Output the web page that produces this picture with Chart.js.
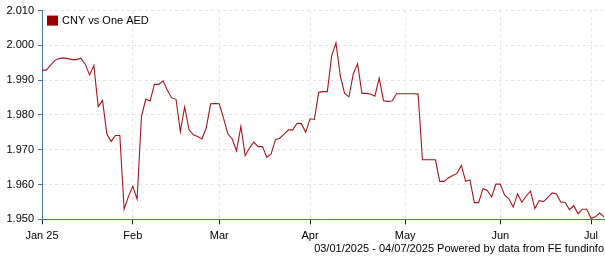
<!DOCTYPE html>
<html>
<head>
<meta charset="utf-8">
<script src="https://cdn.jsdelivr.net/npm/chart.js@4.4.1/dist/chart.umd.min.js"></script>
<style>
    html, body { margin: 0; padding: 0; background: #fff; }
</style>
</head>
<body>
<canvas id="graficoDivisa" width="605" height="260"></canvas>
<script>
const serie = 'CNY vs One AED';
const pie = '03/01/2025 - 04/07/2025 Powered by data from FE fundinfo';
const meses = ['Jan 25', 'Feb', 'Mar', 'Apr', 'May', 'Jun', 'Jul'];
const ticksY = [1.95, 1.96, 1.97, 1.98, 1.99, 2.00, 2.01];

// valores diarios (dias habiles)
const ene = [1.9929, 1.9929, 1.9943, 1.9957, 1.9962, 1.9964, 1.9962, 1.9959, 1.9959, 1.9963,
             1.9946, 1.9915, 1.9942, 1.9824, 1.9842, 1.9745, 1.9724, 1.9741, 1.9741, 1.9529, 1.9566];
const feb = [1.9595, 1.9558, 1.9795, 1.9845, 1.9840, 1.9888, 1.9888, 1.9898, 1.9871, 1.9849,
             1.9845, 1.9752, 1.9823, 1.9758, 1.9743, 1.9738, 1.9731, 1.9763, 1.9832, 1.9833];
const mar = [1.9832, 1.9790, 1.9745, 1.9731, 1.9697, 1.9767, 1.9683, 1.9705, 1.9722, 1.9709,
             1.9709, 1.9678, 1.9688, 1.9729, 1.9733, 1.9745, 1.9757, 1.9757, 1.9776, 1.9775, 1.9750];
const abr = [1.9789, 1.9787, 1.9865, 1.9867, 1.9867, 1.9970, 2.0007, 1.9912, 1.9862, 1.9852,
             1.9918, 1.9947, 1.9862, 1.9862, 1.9860, 1.9854, 1.9906, 1.9841, 1.9839, 1.9840, 1.9861, 1.9861];
const may = [1.9861, 1.9861, 1.9861, 1.9860, 1.9671, 1.9671, 1.9671, 1.9671, 1.9609, 1.9609,
             1.9619, 1.9626, 1.9632, 1.9655, 1.9609, 1.9613, 1.9548, 1.9548, 1.9588, 1.9583, 1.9564, 1.9601];
const jun = [1.9601, 1.9570, 1.9559, 1.9535, 1.9573, 1.9549, 1.9567, 1.9581, 1.9531, 1.9554,
             1.9551, 1.9563, 1.9576, 1.9573, 1.9549, 1.9549, 1.9528, 1.9539, 1.9516, 1.9529, 1.9529];
const jul = [1.9502, 1.9507, 1.9518, 1.9507];

const valores = [...ene, ...feb, ...mar, ...abr, ...may, ...jun, ...jul];

// dias habiles del 03/01/2025 al 04/07/2025
const fechas = [];
for (let d = new Date(2025, 0, 3); d <= new Date(2025, 6, 4); d.setDate(d.getDate() + 1)) {
    if (d.getDay() !== 0 && d.getDay() !== 6) fechas.push(new Date(d));
}
const etiquetas = fechas.map(d => d.toLocaleDateString('en-GB'));
const inicios = fechas.map((d, i) => i).filter(i => i === 0 || fechas[i].getMonth() !== fechas[i - 1].getMonth());

const fuente = 'Arial, "Liberation Sans", sans-serif';
const colorEje = '#4a74a8';

const leyenda = {
    id: 'leyenda',
    afterDraw(chart) {
        const { ctx, chartArea } = chart;
        const x = chartArea.left + 5, y = chartArea.top + 5;
        ctx.save();
        ctx.fillStyle = '#990000';
        ctx.fillRect(x, y, 11, 10);
        ctx.fillStyle = '#000';
        ctx.font = '11px ' + fuente;
        ctx.textBaseline = 'middle';
        ctx.fillText(serie, x + 15, y + 5.5);
        ctx.restore();
    }
};

new Chart(document.getElementById('graficoDivisa').getContext('2d'), {
    type: 'line',
    data: {
        labels: etiquetas,
        datasets: [{
            label: serie,
            data: valores,
            borderColor: '#a8161c',
            borderWidth: 1.1,
            pointRadius: 0,
            tension: 0,
            fill: false
        }]
    },
    options: {
        responsive: false,
        animation: false,
        devicePixelRatio: 1,
        layout: { padding: { top: 9, right: 1, left: 0, bottom: 0 } },
        plugins: {
            legend: { display: false },
            tooltip: { enabled: false },
            title: {
                display: true,
                text: pie,
                position: 'bottom',
                align: 'end',
                color: '#000',
                font: { size: 11, family: fuente, weight: 'normal' },
                padding: { top: 0, bottom: 4.5 }
            }
        },
        scales: {
            x: {
                type: 'category',
                offset: false,
                afterBuildTicks: scale => { scale.ticks = inicios.map(i => ({ value: i })); },
                afterFit: scale => { scale.height = 23; },
                ticks: {
                    autoSkip: false,
                    maxRotation: 0,
                    color: '#000',
                    font: { size: 11, family: fuente },
                    padding: 5,
                    callback: val => meses[inicios.indexOf(val)]
                },
                grid: {
                    color: '#e4e4e4',
                    tickColor: '#222',
                    tickLength: 5,
                    tickBorderDash: []
                },
                border: { display: true, color: colorEje, width: 1, dash: [3, 3] }
            },
            y: {
                min: 1.95,
                max: 2.01,
                afterBuildTicks: scale => { scale.ticks = ticksY.map(v => ({ value: v })); },
                afterFit: scale => { scale.width = 42; },
                ticks: {
                    color: '#000',
                    font: { size: 11, family: fuente },
                    padding: 4,
                    callback: val => val.toFixed(3)
                },
                grid: {
                    color: '#e4e4e4',
                    tickColor: colorEje,
                    tickLength: 4,
                    tickBorderDash: []
                },
                border: { display: true, color: colorEje, width: 1, dash: [3, 3] }
            }
        }
    },
    plugins: [leyenda]
});
</script>
</body>
</html>
